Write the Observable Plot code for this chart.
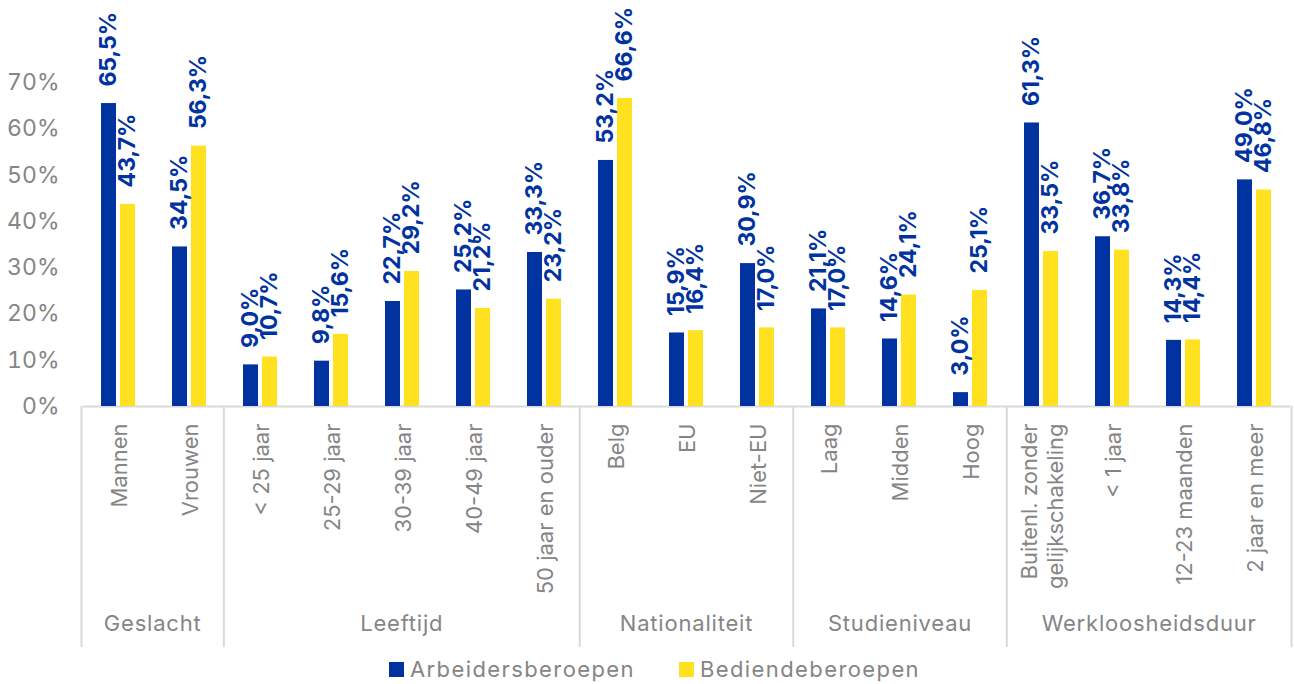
<!DOCTYPE html>
<html>
<head>
<meta charset="utf-8">
<script src="https://cdn.jsdelivr.net/npm/d3@7"></script>
<script src="https://cdn.jsdelivr.net/npm/@observablehq/plot@0.6"></script>
<style>
  body { margin: 0; background: #fff; }
  #chart { position: relative; width: 1294px; height: 684px; font-family: Inter, "Noto Sans", sans-serif; overflow: hidden; }
  #groups { position: absolute; left: 0; top: 406px; }
  #legend { position: absolute; left: 389px; top: 656px; display: flex; align-items: center; font-size: 22px; letter-spacing: 1.4px; color: #858585; }
  #legend .item { display: flex; align-items: center; margin-right: 44px; }
  #legend .sw { width: 15px; height: 15px; margin-right: 6px; }
</style>
</head>
<body>
<div id="chart"></div>
<script>
const categories = ["Mannen","Vrouwen","< 25 jaar","25-29 jaar","30-39 jaar","40-49 jaar","50 jaar en ouder","Belg","EU","Niet-EU","Laag","Midden","Hoog","Buitenl. zonder\ngelijkschakeling","< 1 jaar","12-23 maanden","2 jaar en meer"];
const groups = ["Geslacht","Leeftijd","Nationaliteit","Studieniveau","Werkloosheidsduur"];
const groupSizes = [2,5,3,3,4];
const series = ["Arbeidersberoepen","Bediendeberoepen"];
const arbeiders = [65.5,34.5,9.0,9.8,22.7,25.2,33.3,53.2,15.9,30.9,21.1,14.6,3.0,61.3,36.7,14.3,49.0];
const bedienden = [43.7,56.3,10.7,15.6,29.2,21.2,23.2,66.6,16.4,17.0,17.0,24.1,25.1,33.5,33.8,14.4,46.8];
const yTicks = [0,0.1,0.2,0.3,0.4,0.5,0.6,0.7];
const colors = ["#0033A0","#FFE11F"];

const GRAY = "#858585";
const LINE = "#d9d9d9";
const FONT = "Inter, 'Noto Sans', sans-serif";

const rows = [];
categories.forEach((c, i) => {
  rows.push({category: c, series: series[0], value: arbeiders[i] / 100});
  rows.push({category: c, series: series[1], value: bedienden[i] / 100});
});
const fmt = v => (v * 100).toFixed(1).replace(".", ",") + "%";

const main = Plot.plot({
  width: 1294, height: 650,
  marginLeft: 81, marginRight: 3, marginTop: 36, marginBottom: 244,
  style: {fontFamily: FONT, background: "white", overflow: "visible"},
  fx: {domain: categories, padding: 0, label: null},
  x: {domain: series, paddingInner: 0.2, paddingOuter: 0.88, axis: null},
  y: {domain: [0, 0.8], label: null, axis: null},
  color: {domain: series, range: colors},
  facet: {marginLeft: 0, marginRight: 0},
  marks: [
    Plot.axisY({ticks: yTicks, tickSize: 0, tickPadding: 24, tickFormat: d => Math.round(d * 100) + "%", fontSize: 23, color: GRAY, label: null}),
    Plot.axisFx({anchor: "bottom", tickSize: 0, tickRotate: -90, tickPadding: 17, fontSize: 22, lineHeight: 1.18, color: GRAY, label: null}),
    Plot.ruleY([0], {stroke: LINE, strokeWidth: 2}),
    Plot.barY(rows, {fx: "category", x: "series", y: "value", fill: "series"}),
    Plot.text(rows, {fx: "category", x: "series", y: "value", text: d => fmt(d.value), rotate: -90, textAnchor: "start", dy: -17, fill: colors[0], fontWeight: 700, fontSize: 23})
  ]
});

const bounds = [0];
groupSizes.forEach(n => bounds.push(bounds[bounds.length - 1] + n));
const groupRows = groups.map((g, i) => ({name: g, mid: (bounds[i] + bounds[i + 1]) / 2}));

const overlay = Plot.plot({
  width: 1294, height: 241,
  marginLeft: 81, marginRight: 3, marginTop: 0, marginBottom: 0,
  style: {fontFamily: FONT, background: "transparent", overflow: "visible", letterSpacing: "0.8px"},
  x: {domain: [0, categories.length], axis: null},
  y: {domain: [0, 1], axis: null},
  marks: [
    Plot.ruleX(bounds, {stroke: LINE, strokeWidth: 2}),
    Plot.text(groupRows, {x: "mid", frameAnchor: "bottom", dy: -17, text: "name", fontSize: 22, fill: GRAY})
  ]
});
overlay.id = "groups";

const legend = document.createElement("div");
legend.id = "legend";
series.forEach((s, i) => {
  const item = document.createElement("div");
  item.className = "item";
  const sw = document.createElement("div");
  sw.className = "sw";
  sw.style.background = colors[i];
  const t = document.createElement("span");
  t.textContent = s;
  item.appendChild(sw); item.appendChild(t);
  legend.appendChild(item);
});

const chart = document.getElementById("chart");
chart.appendChild(main);
chart.appendChild(overlay);
chart.appendChild(legend);
</script>
</body>
</html>
